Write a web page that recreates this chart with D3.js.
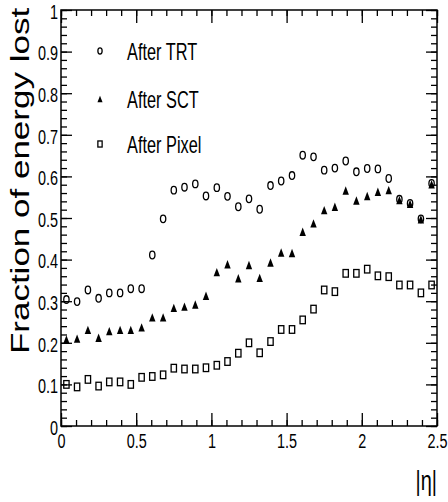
<!DOCTYPE html>
<html>
<head>
<meta charset="utf-8">
<script src="https://cdn.jsdelivr.net/npm/d3@7"></script>
<style>
body { margin: 0; background: #fff; }
text { font-family: "Liberation Sans", Arial, Helvetica, sans-serif; fill: #000; }
</style>
</head>
<body>
<div id="chart"></div>
<script>
// |eta| bin centres (35 bins over 0..2.5)
var etaCenters = [0.036, 0.107, 0.179, 0.250, 0.321, 0.393, 0.464, 0.536, 0.607, 0.679,
    0.750, 0.821, 0.893, 0.964, 1.036, 1.107, 1.179, 1.250, 1.321, 1.393,
    1.464, 1.536, 1.607, 1.679, 1.750, 1.821, 1.893, 1.964, 2.036, 2.107,
    2.179, 2.250, 2.321, 2.393, 2.464];
var afterTRT = [0.304, 0.299, 0.327, 0.307, 0.320, 0.320, 0.330, 0.330, 0.411, 0.498,
    0.567, 0.574, 0.582, 0.553, 0.573, 0.552, 0.527, 0.546, 0.521, 0.578,
    0.589, 0.602, 0.651, 0.647, 0.615, 0.620, 0.637, 0.611, 0.619, 0.618,
    0.595, 0.545, 0.535, 0.498, 0.583];
var afterSCT = [0.208, 0.210, 0.231, 0.212, 0.228, 0.231, 0.231, 0.237, 0.261, 0.261,
    0.284, 0.287, 0.292, 0.313, 0.370, 0.389, 0.355, 0.387, 0.356, 0.393,
    0.417, 0.416, 0.467, 0.487, 0.519, 0.527, 0.566, 0.542, 0.553, 0.563,
    0.567, 0.543, 0.534, 0.497, 0.581];
var afterPixel = [0.100, 0.094, 0.112, 0.096, 0.106, 0.106, 0.100, 0.117, 0.119, 0.123,
    0.139, 0.137, 0.137, 0.140, 0.146, 0.155, 0.175, 0.200, 0.176, 0.203,
    0.232, 0.232, 0.255, 0.281, 0.327, 0.323, 0.367, 0.367, 0.377, 0.361,
    0.359, 0.339, 0.339, 0.320, 0.339];
var seriesNames = ["After TRT", "After SCT", "After Pixel"];
var xTickValues = [0, 0.5, 1, 1.5, 2, 2.5];
var xTickLabels = ["0", "0.5", "1", "1.5", "2", "2.5"];
var yTickValues = [0, 0.1, 0.2, 0.3, 0.4, 0.5, 0.6, 0.7, 0.8, 0.9, 1];
var yTickLabels = ["0", "0.1", "0.2", "0.3", "0.4", "0.5", "0.6", "0.7", "0.8", "0.9", "1"];

var width = 448, height = 502;
// the whole canvas looks squeezed horizontally, so text and markers are too
var squeeze = 0.74;
var frame = {left: 61, right: 437, top: 10, bottom: 426};

var x = d3.scaleLinear().domain([0, 2.5]).range([frame.left, frame.right]);
var y = d3.scaleLinear().domain([0, 1]).range([frame.bottom, frame.top]);

var svg = d3.select("#chart").append("svg").attr("width", width).attr("height", height);

var xMinor = d3.range(0, 2.501, 0.1);
var yMinor = d3.range(0, 1.001, 0.02);

function noDomain(g) { g.select(".domain").remove(); }

// ticks, all pointing into the frame
svg.append("g").attr("transform", "translate(0," + frame.bottom + ")")
    .call(d3.axisBottom(x).tickValues(xMinor).tickSizeInner(-6).tickSizeOuter(0).tickFormat(""))
    .call(noDomain);
var xAxis = svg.append("g").attr("transform", "translate(0," + frame.bottom + ")")
    .call(d3.axisBottom(x).tickValues(xTickValues).tickSizeInner(-13).tickSizeOuter(0).tickPadding(8)
        .tickFormat(function(d, i) { return xTickLabels[i]; }))
    .call(noDomain);
svg.append("g").attr("transform", "translate(0," + frame.top + ")")
    .call(d3.axisTop(x).tickValues(xMinor).tickSizeInner(-6).tickSizeOuter(0).tickFormat(""))
    .call(noDomain);
svg.append("g").attr("transform", "translate(0," + frame.top + ")")
    .call(d3.axisTop(x).tickValues(xTickValues).tickSizeInner(-13).tickSizeOuter(0).tickFormat(""))
    .call(noDomain);

svg.append("g").attr("transform", "translate(" + frame.left + ",0)")
    .call(d3.axisLeft(y).tickValues(yMinor).tickSizeInner(-6).tickSizeOuter(0).tickFormat(""))
    .call(noDomain);
var yAxis = svg.append("g").attr("transform", "translate(" + frame.left + ",0)")
    .call(d3.axisLeft(y).tickValues(yTickValues).tickSizeInner(-11).tickSizeOuter(0).tickPadding(3)
        .tickFormat(function(d, i) { return yTickLabels[i]; }))
    .call(noDomain);
svg.append("g").attr("transform", "translate(" + frame.right + ",0)")
    .call(d3.axisRight(y).tickValues(yMinor).tickSizeInner(-6).tickSizeOuter(0).tickFormat(""))
    .call(noDomain);
svg.append("g").attr("transform", "translate(" + frame.right + ",0)")
    .call(d3.axisRight(y).tickValues(yTickValues).tickSizeInner(-11).tickSizeOuter(0).tickFormat(""))
    .call(noDomain);

svg.selectAll(".tick line").attr("stroke", "#000").attr("stroke-width", 1.3);

xAxis.selectAll("text").attr("font-size", 19.5).attr("fill", "#000")
    .attr("transform", "scale(" + squeeze + ",1)");
yAxis.selectAll("text").attr("font-size", 19.5).attr("fill", "#000")
    .attr("x", -3 / squeeze).attr("dy", "0.42em")
    .attr("transform", "scale(" + squeeze + ",1)");

svg.append("rect")
    .attr("x", frame.left).attr("y", frame.top)
    .attr("width", frame.right - frame.left).attr("height", frame.bottom - frame.top)
    .attr("fill", "none").attr("stroke", "#000").attr("stroke-width", 1.5);

// axis titles
svg.append("text").text("|\u03b7|")
    .attr("text-anchor", "end").attr("font-size", 27)
    .attr("transform", "translate(" + frame.right + ",490) scale(" + squeeze + ",1)");
svg.append("text").text("Fraction of energy lost")
    .attr("text-anchor", "middle").attr("font-size", 35)
    .attr("transform", "translate(29,181) scale(0.76,1) rotate(-90)");

// markers
function circleMark(g, cx, cy, s) {
    g.append("ellipse").attr("cx", cx).attr("cy", cy)
        .attr("rx", 3.6 * squeeze * s).attr("ry", 3.8 * s)
        .attr("fill", "none").attr("stroke", "#000").attr("stroke-width", 1.3);
}
function triangleMark(g, cx, cy, s) {
    var hw = 3.2 * s, h = 4.2 * s;
    g.append("path")
        .attr("d", "M" + cx + "," + (cy - h) + "L" + (cx + hw) + "," + (cy + h) + "L" + (cx - hw) + "," + (cy + h) + "Z")
        .attr("fill", "#000");
}
function squareMark(g, cx, cy, s) {
    var hw = 3.6 * squeeze * s, hh = 3.8 * s;
    g.append("rect").attr("x", cx - hw).attr("y", cy - hh)
        .attr("width", 2 * hw).attr("height", 2 * hh)
        .attr("fill", "none").attr("stroke", "#000").attr("stroke-width", 1.3);
}

var series = [
    {name: seriesNames[0], values: afterTRT, mark: circleMark},
    {name: seriesNames[1], values: afterSCT, mark: triangleMark},
    {name: seriesNames[2], values: afterPixel, mark: squareMark}
];

var points = svg.append("g");
series.slice().reverse().forEach(function(s) {
    s.values.forEach(function(v, i) {
        s.mark(points, x(etaCenters[i]), y(v), 1);
    });
});

// legend
var legendRows = [51, 99, 144];
var legend = svg.append("g");
series.forEach(function(s, i) {
    s.mark(legend, 100, legendRows[i], 0.8);
    legend.append("text").text(s.name)
        .attr("font-size", 23)
        .attr("transform", "translate(127," + (legendRows[i] + 8.5) + ") scale(0.71,1)");
});
</script>
</body>
</html>
